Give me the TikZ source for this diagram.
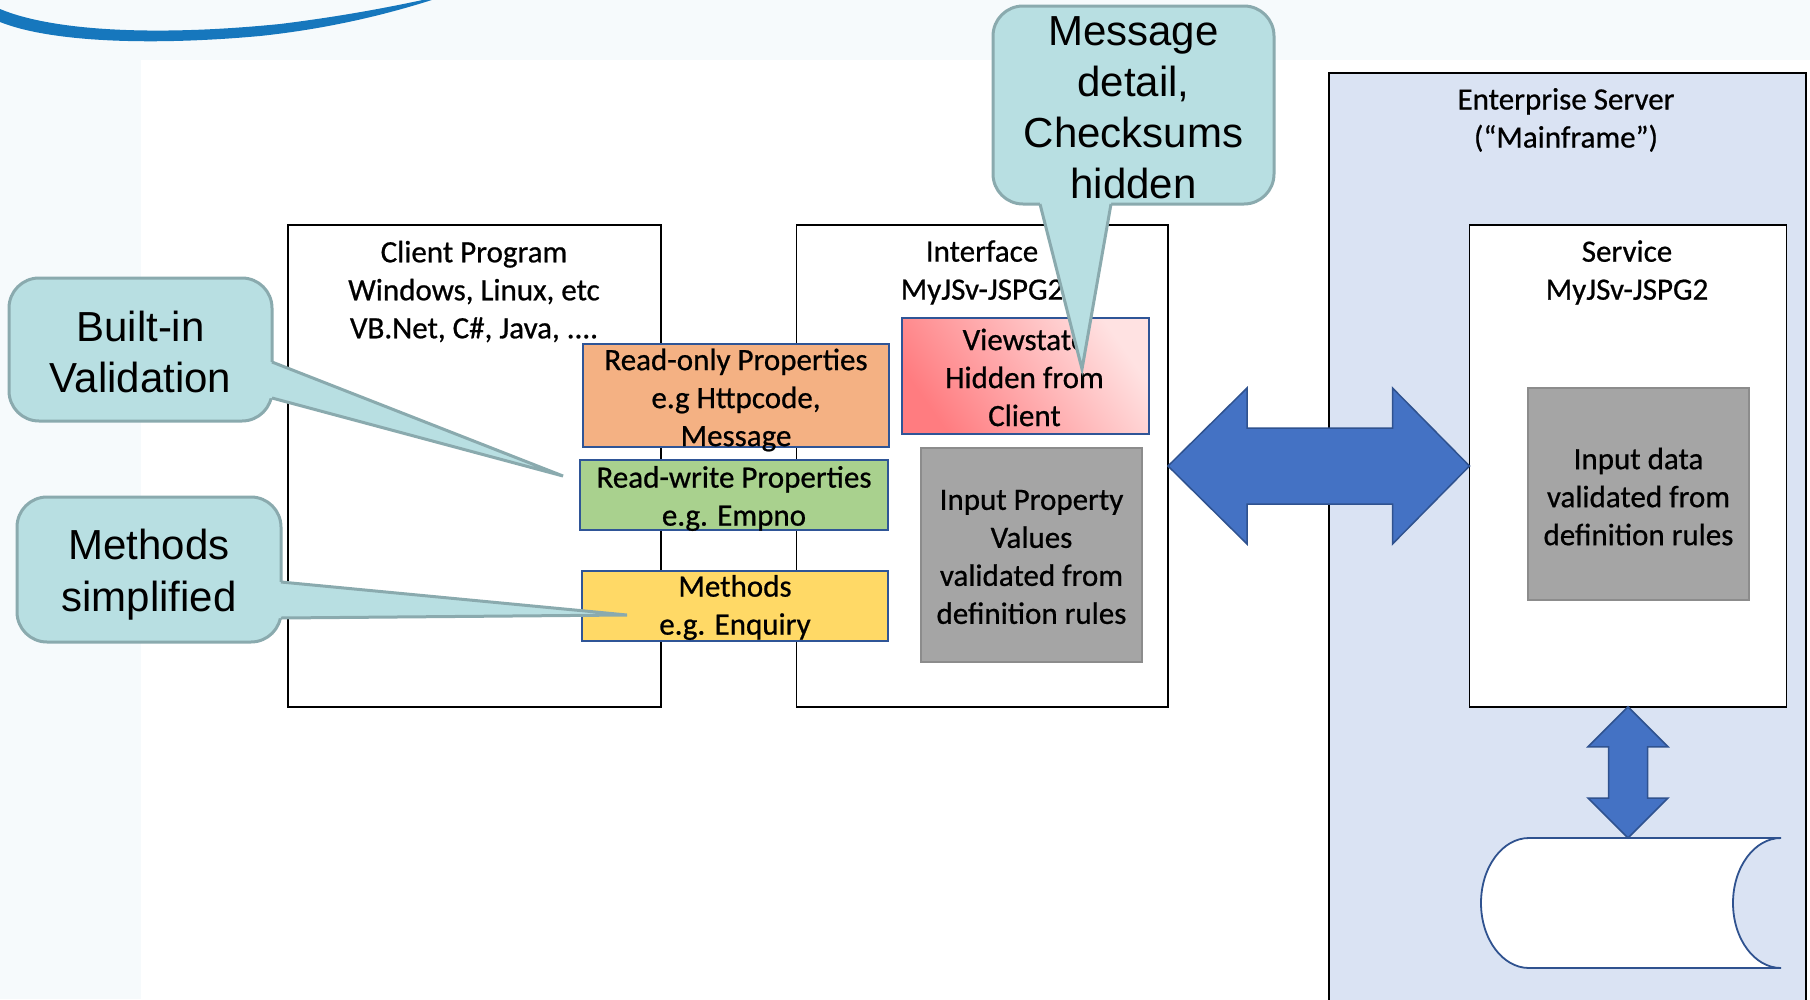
\documentclass[tikz,border=0pt]{standalone}
\usepackage{fontspec}
\setmainfont{Carlito}[FakeBold=0.7]
\newfontfamily\calloutfont{Liberation Sans}
\usetikzlibrary{calc}
\definecolor{bgtint}{HTML}{F6FAFC}
\definecolor{swooshblue}{HTML}{1677BD}
\definecolor{entfill}{HTML}{DAE3F3}
\definecolor{boxblue}{HTML}{2F5597}
\definecolor{orangefill}{HTML}{F4B183}
\definecolor{greenfill}{HTML}{A9D18E}
\definecolor{yellowfill}{HTML}{FFD966}
\definecolor{pinkdark}{HTML}{FF7C80}
\definecolor{pinklight}{HTML}{FFE2E2}
\definecolor{greyfill}{HTML}{A5A5A5}
\definecolor{greyedge}{HTML}{8C8C8C}
\definecolor{arrowfill}{HTML}{4472C4}
\definecolor{arrowedge}{HTML}{2F528F}
\definecolor{calloutfill}{HTML}{B8DFE2}
\definecolor{calloutedge}{HTML}{8AAAAE}
\begin{document}
\begin{tikzpicture}[x=1pt,y=-1pt,
  every node/.style={inner sep=0pt,outer sep=0pt},
  frame/.style={draw=black,line width=1.8pt,fill=white},
  lbl/.style={align=center,font=\fontsize{31}{38}\selectfont,text=black},
  propbox/.style={draw=boxblue,line width=2pt},
  greybox/.style={draw=greyedge,fill=greyfill,line width=2.5pt},
  callbox/.style={draw=calloutedge,fill=calloutfill,line width=3pt,rounded corners=30pt},
  calltext/.style={align=center,font=\calloutfont\fontsize{42}{51}\selectfont,text=black},
  wedgefill/.style={fill=calloutfill},
  wedgeedge/.style={draw=calloutedge,line width=3pt,line join=miter},
  blockarrow/.style={fill=arrowfill,draw=arrowedge,line width=1.5pt,line join=miter},
  dbshape/.style={draw=arrowedge,line width=1.8pt}
]
\useasboundingbox (0,0) rectangle (1810,999);
\clip (0,0) rectangle (1810,999);
% background
\fill[bgtint] (0,0) rectangle (1810,999);
\fill[white] (141,60) rectangle (1810,999);
% swoosh
\fill[swooshblue] (0,9) .. controls (50,30) and (150,37) .. (280,24) .. controls (345,16) and (395,6) .. (432,-2) -- (438,-2) .. controls (395,12) and (335,28) .. (260,36) .. controls (150,46) and (50,42) .. (0,22) -- cycle;

% main frames
\node[draw=black,line width=1.8pt,fill=entfill,minimum width=477pt,minimum height=940pt] (ent) at (1567.3,542.7) {};
\node[frame,minimum width=373pt,minimum height=482pt] (client) at (474.5,466) {};
\node[frame,minimum width=371.5pt,minimum height=482pt] (iface) at (982.25,466) {};
\node[frame,minimum width=317pt,minimum height=481.5pt] (service) at (1628,466) {};

% frame labels
\node[lbl] (clientlbl) at (474,291.5) {Client Program\\Windows, Linux, etc\\VB.Net, C\#, Java, ....};
\node[lbl] (ifacelbl) at (982,272.5) {Interface\\MyJSv-JSPG2};
\node[lbl] (entlbl) at (1566,120) {Enterprise Server\\(“Mainframe”)};
\node[lbl] (servlbl) at (1627,272.5) {Service\\MyJSv-JSPG2};

% property boxes
\node[propbox,fill=orangefill,minimum width=306pt,minimum height=103pt] (ro) at (736,395.5) {};
\node[lbl] (rotext) at ($(ro.center)+(0,4.5)$) {Read-only Properties\\e.g Httpcode,\\Message};
\node[propbox,fill=greenfill,minimum width=308pt,minimum height=70pt] (rw) at (734,495) {};
\node[lbl] (rwtext) at ($(rw.center)+(0,3.5)$) {Read-write Properties\\e.g. Empno};
\node[propbox,fill=yellowfill,minimum width=306pt,minimum height=70pt] (meth) at (735,606) {};
\node[lbl] (methtext) at ($(meth.center)+(0,1.5)$) {Methods\\e.g. Enquiry};
\node[propbox,left color=pinkdark,right color=pinklight,shading angle=125,minimum width=247pt,minimum height=116pt] (vs) at (1025.5,376) {};
\node[lbl] (vstext) at ($(vs.center)+(-1,1.5)$) {Viewstate\\Hidden from\\Client};
\node[greybox,minimum width=221pt,minimum height=214pt] (ival) at (1031.5,555) {};
\node[lbl] (ivaltext) at ($(ival.center)+(0,2)$) {Input Property\\Values\\validated from\\definition rules};
\node[greybox,minimum width=221pt,minimum height=212pt] (sval) at (1638.5,494) {};
\node[lbl] (svaltext) at ($(sval.center)+(0,2.5)$) {Input data\\validated from\\definition rules};

% big double arrow
\draw[blockarrow] (iface.east) -- ($(iface.east)+(79,-78)$) -- ($(iface.east)+(79,-38)$) -- ($(service.west)+(-77,-38)$) -- ($(service.west)+(-77,-78)$) -- (service.west) -- ($(service.west)+(-77,78)$) -- ($(service.west)+(-77,38)$) -- ($(iface.east)+(79,38)$) -- ($(iface.east)+(79,78)$) -- cycle;

% database
\coordinate (dbtop) at (1628,838);
\draw[dbshape,fill=white] (1781,838) -- (1529,838) arc[start angle=270,end angle=90,x radius=48,y radius=65] -- (1781,968) arc[start angle=90,end angle=270,x radius=48,y radius=65];

% small vertical arrow
\draw[blockarrow] (service.south) -- ($(service.south)+(40,40)$) -- ($(service.south)+(19.5,40)$) -- ($(dbtop)+(19.5,-40)$) -- ($(dbtop)+(40,-40)$) -- (dbtop) -- ($(dbtop)+(-40,-40)$) -- ($(dbtop)+(-19.5,-40)$) -- ($(service.south)+(-19.5,40)$) -- ($(service.south)+(-40,40)$) -- cycle;

% callouts
\node[callbox,minimum width=263pt,minimum height=143pt] (bv) at (140.5,349.5) {};
\coordinate (bvtip) at (563,476);
\fill[wedgefill] ($(bv.north east)+(-6,84)$) -- ($(bv.north east)+(0,84)$) -- (bvtip) -- ($(bv.north east)+(0,120)$) -- ($(bv.north east)+(-6,120)$) -- cycle;
\draw[wedgeedge] ($(bv.north east)+(0,84)$) -- (bvtip) -- ($(bv.north east)+(0,120)$);
\node[calltext] (bvtext) at ($(bv.center)+(0,2.5)$) {Built-in\\Validation};

\node[callbox,minimum width=264pt,minimum height=145pt] (ms) at (149,569.5) {};
\coordinate (mstip) at (627,615);
\fill[wedgefill] ($(ms.north east)+(-6,85)$) -- ($(ms.north east)+(0,85)$) -- (mstip) -- ($(ms.north east)+(0,121)$) -- ($(ms.north east)+(-6,121)$) -- cycle;
\draw[wedgeedge] ($(ms.north east)+(0,85)$) -- (mstip) -- ($(ms.north east)+(0,121)$);
\node[calltext,font=\calloutfont\fontsize{42}{52}\selectfont] (mstext) at ($(ms.center)+(0,5.5)$) {Methods\\simplified};

\node[callbox,minimum width=281pt,minimum height=198pt] (md) at (1133.5,105) {};
\coordinate (mdtip) at (1082,369);
\fill[wedgefill] ($(md.south west)+(47,-6)$) -- ($(md.south west)+(47,0)$) -- (mdtip) -- ($(md.south west)+(118,0)$) -- ($(md.south west)+(118,-6)$) -- cycle;
\draw[wedgeedge] ($(md.south west)+(47,0)$) -- (mdtip) -- ($(md.south west)+(118,0)$);
\node[calltext] (mdtext) at ($(md.center)+(0,2.5)$) {Message\\detail,\\Checksums\\hidden};
\end{tikzpicture}
\end{document}
